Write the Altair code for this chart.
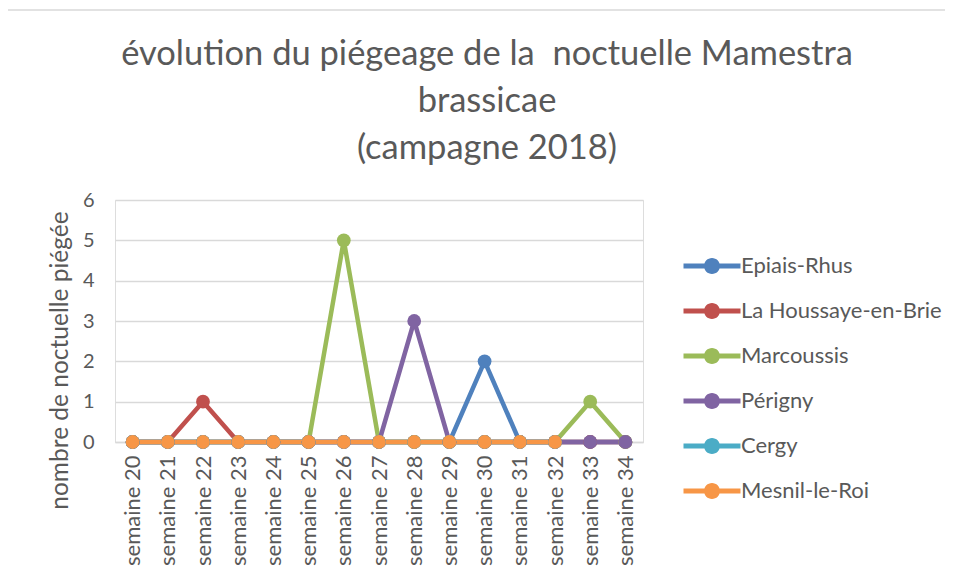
import altair as alt
import pandas as pd

weeks = [f"semaine {i}" for i in range(20, 35)]
series = ["Epiais-Rhus", "La Houssaye-en-Brie", "Marcoussis", "Périgny", "Cergy", "Mesnil-le-Roi"]
colors = ["#4F81BD", "#C0504D", "#9BBB59", "#8064A2", "#4BACC6", "#F79646"]

epiais = [0, 0, 0, 0, 0, 0, 0, 0, 0, 0, 2, 0, 0, 0, 0]
houssaye = [0, 0, 1, 0, 0, 0, 0, 0, 0, 0, 0, 0, 0, 0, 0]
marcoussis = [0, 0, 0, 0, 0, 0, 5, 0, 0, 0, 0, 0, 0, 1, 0]
perigny = [0, 0, 0, 0, 0, 0, 0, 0, 3, 0, 0, 0, 0, 0, 0]
cergy = [0, 0, 0, 0, 0, 0, 0, 0, 0, 0, 0, 0, 0, None, None]
mesnil = [0, 0, 0, 0, 0, 0, 0, 0, 0, 0, 0, 0, 0, None, None]

values = [epiais, houssaye, marcoussis, perigny, cergy, mesnil]
rows = []
for s, vals in zip(series, values):
    for w, v in zip(weeks, vals):
        if v is not None:
            rows.append({"semaine": w, "site": s, "n": v})
df = pd.DataFrame(rows)

FONT = "Lato"
GREY = "#595959"

x_enc = alt.X("semaine:N", sort=weeks, title=None,
              scale=alt.Scale(domain=weeks, paddingOuter=0.5),
              axis=alt.Axis(labelAngle=-90, labelFontSize=22, labelColor=GREY, labelFont=FONT,
                            labelPadding=13, ticks=False, tickSize=0, domain=True,
                            domainColor="#D9D9D9", domainWidth=1.3, grid=False,
                            labelBaseline="middle", labelAlign="right"))
y_enc = alt.Y("n:Q", title="nombre de noctuelle piégée",
              scale=alt.Scale(domain=[0, 6], nice=False),
              axis=alt.Axis(values=[0, 1, 2, 3, 4, 5, 6], labelFontSize=20, labelColor=GREY,
                            labelFont=FONT, labelPadding=21, ticks=False, tickSize=0,
                            domain=False, grid=True, gridColor="#D9D9D9", gridWidth=1.3,
                            titleFontSize=24.5, titleFont=FONT, titleColor=GREY,
                            titleFontWeight="normal", titleX=-55, titleY=160,
                            titleAlign="center", titleBaseline="middle", titleAngle=-90))
color_enc = alt.Color("site:N", scale=alt.Scale(domain=series, range=colors),
                      legend=alt.Legend(title=None, orient="none", legendX=586, legendY=55,
                                        padding=0, labelFontSize=22, labelFont=FONT,
                                        labelColor=GREY, labelOffset=18, rowPadding=23,
                                        labelLimit=400,
                                        symbolSize=100, symbolStrokeWidth=0,
                                        symbolType="M-5.7,-0.5 H5.7 V0.5 H-5.7 Z M0,-1.6 A1.6,1.6 0 1,1 0,1.6 A1.6,1.6 0 1,1 0,-1.6 Z",
                                        symbolOpacity=1))

layers = []
frame = alt.Chart(pd.DataFrame({"k": [0]})).mark_rect(
    fillOpacity=0, stroke="#D9D9D9", strokeWidth=1.5
).encode(x=alt.value(-110), x2=alt.value(840), y=alt.value(-190), y2=alt.value(400))
layers.append(frame)

base = alt.Chart(df)
for s in series:
    sub = base.transform_filter(alt.datum.site == s)
    layers.append(sub.mark_line(strokeWidth=4.5, strokeCap="round", strokeJoin="round").encode(
        x=x_enc, y=y_enc, color=color_enc))
for s in series:
    sub = base.transform_filter(alt.datum.site == s)
    layers.append(sub.mark_point(filled=True, size=190, opacity=1, shape="circle").encode(
        x=x_enc, y=y_enc, color=color_enc))

chart = alt.layer(*layers).properties(
    width=528, height=242,
    padding={"left": 107, "top": 192, "right": 302, "bottom": 128},
    autosize=alt.AutoSizeParams(type="none"),
    title=alt.TitleParams(
        text=["évolution du piégeage de la \u00a0noctuelle Mamestra", "brassicae", "(campagne 2018)"],
        fontSize=34.5, font=FONT, color=GREY, fontWeight="normal", lineHeight=47,
        anchor="middle", dx=108, offset=-157, frame="group"),
).configure_view(stroke=None).configure(background="white")

chart.save("out.html", embed_options={"renderer": "svg", "actions": False})
